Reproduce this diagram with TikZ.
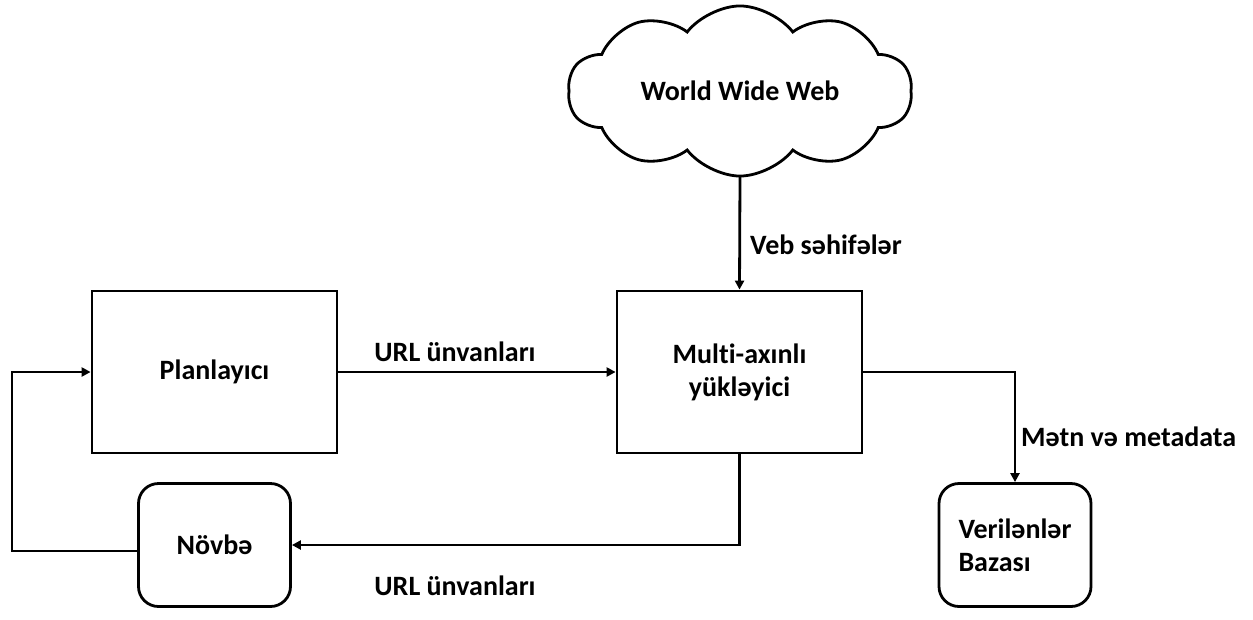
\documentclass[tikz,border=0pt]{standalone}
\usepackage{fontspec}
\setmainfont{Carlito}[Ligatures=NoCommon]
\usetikzlibrary{shapes.symbols,arrows.meta}
\begin{document}
\begin{tikzpicture}[x=1pt,y=-1pt,
  every node/.style={font=\fontsize{28}{33}\selectfont\bfseries},
  sqbox/.style={draw,line width=2.8pt,minimum width=245pt,minimum height=162pt,inner sep=0pt,align=center},
  rbox/.style={draw,line width=2.8pt,rounded corners=20pt,minimum width=152pt,minimum height=123pt,inner sep=0pt,align=left},
  conn/.style={line width=2.8pt,-{Triangle[length=9pt,width=9pt]}},
  lbl/.style={inner sep=0pt}]
\useasboundingbox (0,0) rectangle (1253,619);
\node[draw,cloud,cloud puffs=10,cloud puff arc=105,aspect=2.1,line width=2.8pt,minimum width=344pt,minimum height=168pt,inner sep=0pt] (web) at (740,91) {World Wide Web};
\node[sqbox] (plan) at (214.5,372) {Planlayıcı};
\node[sqbox] (multi) at (739.5,372) {Multi-axınlı\\yükləyici};
\node[rbox] (queue) at (214.5,545) {Növbə};
\node[rbox] (db) at (1015,545) {Verilənlər\\Bazası};
\draw[conn] (web.south |- 0,176) -- (multi.north);
\draw[conn] (plan.east) -- (multi.west);
\draw[conn] (multi.east) -| (db.north);
\draw[conn] (multi.south) |- (queue.east);
\coordinate (lc) at (12,551);
\draw[conn] (queue.west |- lc) -- (lc) |- (plan.west);
\node[lbl,anchor=west] (l1) at (750,245) {Veb səhifələr};
\node[lbl] (l2) at (455,352) {URL ünvanları};
\node[lbl,anchor=west] (l3) at (1021,437) {Mətn və metadata};
\node[lbl] (l4) at (455,586) {URL ünvanları};
\end{tikzpicture}
\end{document}
